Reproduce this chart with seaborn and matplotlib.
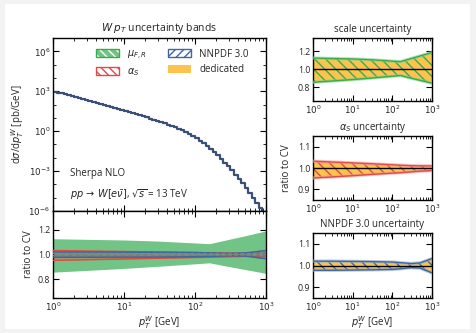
import numpy as np
import pandas as pd
import matplotlib
matplotlib.use("Agg")
import matplotlib.pyplot as plt
import seaborn as sns
from matplotlib.patches import Patch, Rectangle
from matplotlib.legend_handler import HandlerTuple
from matplotlib.ticker import LogLocator, NullFormatter, FixedLocator

# ---------------- data ----------------
pt_edges = [1.0, 1.122, 1.259, 1.413, 1.585, 1.778, 1.995, 2.239, 2.512, 2.818,
            3.162, 3.548, 3.981, 4.467, 5.012, 5.623, 6.310, 7.079, 7.943, 8.913,
            10.0, 11.22, 12.59, 14.13, 15.85, 17.78, 19.95, 22.39, 25.12, 28.18,
            31.62, 35.48, 39.81, 44.67, 50.12, 56.23, 63.10, 70.79, 79.43, 89.13,
            100.0, 112.2, 125.9, 141.3, 158.5, 177.8, 199.5, 223.9, 251.2, 281.8,
            316.2, 354.8, 398.1, 446.7, 501.2, 562.3, 631.0, 707.9, 794.3, 891.3,
            1000.0]
log_xsec = [2.97, 2.90, 2.84, 2.77, 2.70, 2.64, 2.57, 2.50, 2.42, 2.35,
            2.28, 2.20, 2.13, 2.05, 1.98, 1.90, 1.82, 1.74, 1.66, 1.58,
            1.51, 1.43, 1.35, 1.27, 1.19, 1.11, 1.03, 0.95, 0.86, 0.78,
            0.69, 0.59, 0.50, 0.40, 0.29, 0.18, 0.06, -0.07, -0.21, -0.36,
            -0.53, -0.71, -0.91, -1.12, -1.34, -1.57, -1.82, -2.08, -2.36, -2.65,
            -2.95, -3.26, -3.58, -3.92, -4.27, -4.63, -5.01, -5.40, -5.80, -6.20]

band_pt = [1, 3, 10, 30, 100, 160, 300, 500, 1000]
scale_up = [1.127, 1.122, 1.117, 1.108, 1.093, 1.087, 1.122, 1.150, 1.190]
scale_dn = [0.858, 0.872, 0.888, 0.905, 0.925, 0.933, 0.903, 0.880, 0.848]
alphas_up = [1.032, 1.028, 1.024, 1.020, 1.015, 1.013, 1.011, 1.010, 1.010]
alphas_dn = [0.953, 0.958, 0.964, 0.970, 0.976, 0.978, 0.982, 0.985, 0.988]
pdf_up = [1.020, 1.020, 1.019, 1.018, 1.016, 1.013, 1.009, 1.012, 1.032]
pdf_dn = [0.978, 0.978, 0.979, 0.980, 0.982, 0.985, 0.990, 0.988, 0.966]
var_up = [1.008, 1.008, 1.008, 1.008, 1.007, 1.006, 1.005, 1.006, 1.010]
var_dn = [0.992, 0.992, 0.992, 0.992, 0.993, 0.994, 0.995, 0.994, 0.990]

xticks = [1, 10, 100, 1000]
xticklabels = ["$10^0$", "$10^1$", "$10^2$", "$10^3$"]

# ---------------- style ----------------
sns.set_theme(style="ticks")
plt.rcParams["font.family"] = ["Open Sans", "DejaVu Sans"]
plt.rcParams["mathtext.fontset"] = "dejavusans"
plt.rcParams["hatch.linewidth"] = 1.0

GREEN_FILL = "#72c486"
GREEN = "#3aab4c"
RED = "#e04a4a"
BLUE = "#3f66a0"
YELLOW = "#fcc44c"
LINE = "#3b5078"

W, H = 476, 333
fig = plt.figure(figsize=(W / 100, H / 100), dpi=100, facecolor="#f3f3f3")
fig.patches.append(Rectangle((5 / W, 4 / H), (470 - 5) / W, (329 - 4) / H,
                             transform=fig.transFigure, facecolor="white",
                             edgecolor="none", zorder=-10))

def box(x0, y0, x1, y1):
    return [x0 / W, 1 - y1 / H, (x1 - x0) / W, (y1 - y0) / H]

ax_main = fig.add_axes(box(53, 38, 266, 211))
ax_rat = fig.add_axes(box(53, 211, 266, 298))
ax_r1 = fig.add_axes(box(313, 38, 432, 101))
ax_r2 = fig.add_axes(box(313, 136, 432, 200))
ax_r3 = fig.add_axes(box(313, 233, 432, 298))

FS = 7
TFS = 6.3

def style(ax, ylim, yticks, show_x=True):
    ax.set_xscale("log")
    ax.set_xlim(1, 1000)
    ax.set_ylim(*ylim)
    ax.set_facecolor("white")
    for s in ax.spines.values():
        s.set_color("black")
        s.set_linewidth(1.0)
        s.set_visible(True)
    ax.xaxis.set_major_locator(FixedLocator(xticks))
    ax.xaxis.set_minor_locator(LogLocator(base=10, subs=np.arange(2, 10), numticks=20))
    ax.xaxis.set_minor_formatter(NullFormatter())
    if show_x:
        ax.set_xticklabels(xticklabels)
    else:
        ax.set_xticklabels([])
    if yticks is not None:
        ax.set_yticks(yticks)
        ax.set_yticklabels([f"{t:.1f}" for t in yticks])
    ax.tick_params(which="both", direction="in", top=True, right=True,
                   labelsize=TFS, pad=2, color="black")
    ax.tick_params(which="major", length=4, width=0.8)
    ax.tick_params(which="minor", length=2, width=0.6)

# ---------------- main spectrum ----------------
df = pd.DataFrame({"pt": pt_edges, "xsec": [10 ** v for v in log_xsec] + [10 ** log_xsec[-1]]})
sns.lineplot(data=df, x="pt", y="xsec", ax=ax_main, drawstyle="steps-post",
             color=LINE, lw=1.6, legend=False)
ax_main.set_yscale("log")
style(ax_main, (1e-6, 1e7), None, show_x=False)
ax_main.set_yticks([1e-6, 1e-3, 1e0, 1e3, 1e6])
ax_main.set_yticklabels(["$10^{-6}$", "$10^{-3}$", "$10^{0}$", "$10^{3}$", "$10^{6}$"])
ax_main.yaxis.set_minor_locator(FixedLocator([10.0 ** k for k in range(-6, 8)]))
ax_main.yaxis.set_minor_formatter(NullFormatter())
ax_main.tick_params(axis="y", which="both", labelsize=TFS)
ax_main.set_xlabel("")
ax_main.set_ylabel(r"d$\sigma$/d$p_T^W$ [pb/GeV]", fontsize=FS, labelpad=2)
ax_main.set_title(r"$W$ $p_T$ uncertainty bands", fontsize=7.5, pad=5)
ax_main.text(0.08, 0.205, "Sherpa NLO", transform=ax_main.transAxes, fontsize=FS)
ax_main.text(0.08, 0.075, r"$pp\,\rightarrow\,W[e\bar{\nu}]$, $\sqrt{s}$ = 13 TeV",
             transform=ax_main.transAxes, fontsize=FS)

h_mu = (Patch(facecolor=GREEN_FILL, edgecolor="white", hatch="\\\\\\\\", lw=0),
        Patch(facecolor="none", edgecolor=GREEN, lw=1.0))
h_as = Patch(facecolor="white", edgecolor=RED, hatch="\\\\\\\\", lw=1.0)
h_pdf = Patch(facecolor="white", edgecolor=BLUE, hatch="////", lw=1.0)
h_ded = Patch(facecolor=YELLOW, edgecolor="none")
ax_main.legend([h_mu, h_as, h_pdf, h_ded],
               [r"$\mu_{F,R}$", r"$\alpha_S$", "NNPDF 3.0", "dedicated"],
               handler_map={tuple: HandlerTuple(ndivide=1, pad=0)},
               ncol=2, loc="upper left", bbox_to_anchor=(0.16, 0.99), frameon=False,
               fontsize=FS, handlelength=2.4, handleheight=0.9, columnspacing=2.2,
               handletextpad=0.8, labelspacing=0.45)

# ---------------- ratio panel ----------------
ax_rat.fill_between(band_pt, scale_dn, scale_up, color=GREEN_FILL, lw=0, zorder=1)
ax_rat.fill_between(band_pt, alphas_dn, alphas_up, color=RED, alpha=0.35, lw=0, zorder=2)
ax_rat.plot(band_pt, alphas_up, color=RED, lw=1.1, zorder=3)
ax_rat.plot(band_pt, alphas_dn, color=RED, lw=1.1, zorder=3)
ax_rat.fill_between(band_pt, pdf_dn, pdf_up, color=BLUE, alpha=0.3, lw=0, zorder=4)
ax_rat.plot(band_pt, pdf_up, color=BLUE, lw=1.1, zorder=5)
ax_rat.plot(band_pt, pdf_dn, color=BLUE, lw=1.1, zorder=5)
ax_rat.plot(band_pt, var_up, color="#5a9a9a", lw=0.9, ls=(0, (3, 2)), zorder=6)
ax_rat.plot(band_pt, var_dn, color="#5aa070", lw=0.9, ls=(0, (3, 2)), zorder=6)
ax_rat.plot(band_pt, [1.0] * len(band_pt), color=RED, lw=0.9, ls=(0, (3, 3)), alpha=0.7, zorder=6)
style(ax_rat, (0.65, 1.35), [0.8, 1.0, 1.2])
ax_rat.set_ylabel("ratio to CV", fontsize=FS, labelpad=3)
ax_rat.set_xlabel(r"$p_T^W$ [GeV]", fontsize=FS, labelpad=1)

# ---------------- right panels ----------------
def ded_panel(ax, lo, hi, col, hatch, edgelw=1.0, halo=None):
    ax.fill_between(band_pt, lo, hi, color=YELLOW, lw=0, zorder=1)
    ax.fill_between(band_pt, lo, hi, facecolor="none", edgecolor=col, hatch=hatch,
                    lw=0, zorder=2)
    if halo is not None:
        ax.plot(band_pt, hi, color=halo, lw=2.4, zorder=3, alpha=0.6)
        ax.plot(band_pt, lo, color=halo, lw=2.4, zorder=3, alpha=0.6)
    ax.plot(band_pt, hi, color=col, lw=edgelw, zorder=4)
    ax.plot(band_pt, lo, color=col, lw=edgelw, zorder=4)
    ax.plot(band_pt, [1.0] * len(band_pt), color="black", lw=1.0, zorder=5)

ded_panel(ax_r1, scale_dn, scale_up, GREEN, "\\\\\\", halo="#7fd08f")
style(ax_r1, (0.65, 1.35), [0.8, 1.0, 1.2])
ax_r1.set_title("scale uncertainty", fontsize=FS, pad=4)

ded_panel(ax_r2, alphas_dn, alphas_up, RED, "\\\\\\", halo="#f29a9a")
style(ax_r2, (0.85, 1.15), [0.9, 1.0, 1.1])
ax_r2.set_title(r"$\alpha_S$ uncertainty", fontsize=FS, pad=4)
ax_r2.set_ylabel("ratio to CV", fontsize=FS, labelpad=4)

ded_panel(ax_r3, pdf_dn, pdf_up, BLUE, "\\\\\\", halo="#8fa8d0")
style(ax_r3, (0.85, 1.15), [0.9, 1.0, 1.1])
ax_r3.set_title("NNPDF 3.0 uncertainty", fontsize=FS, pad=4)
ax_r3.set_xlabel(r"$p_T^W$ [GeV]", fontsize=FS, labelpad=1)

fig.savefig("out.png", dpi=100, facecolor=fig.get_facecolor())
